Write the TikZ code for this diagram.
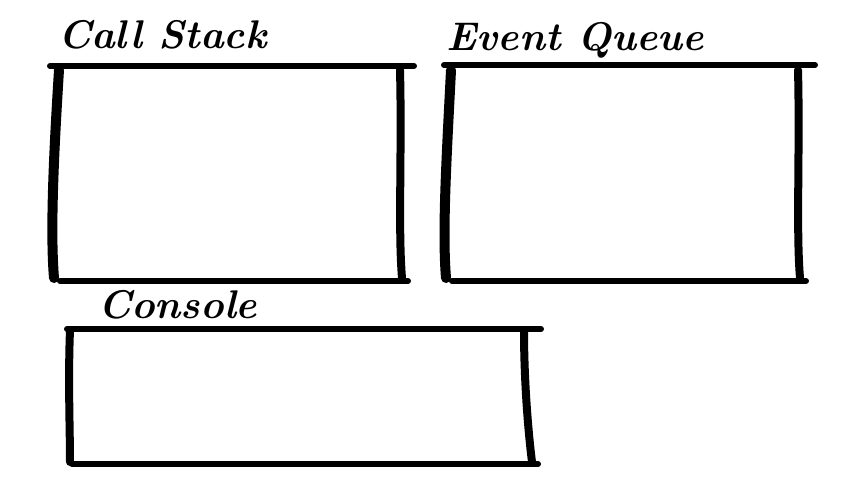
\documentclass[tikz,border=0pt]{standalone}
\begin{document}
\begin{tikzpicture}[x=1pt,y=-1pt]
\tikzset{brush/.style={line width=6pt,line cap=round},
  thick brush/.style={brush,line width=10pt},
  title/.style={anchor=base west,inner sep=0pt,font=\fontsize{40}{40}\selectfont\bfseries\itshape}}
\useasboundingbox (0,0) rectangle (853,480);

% titles
\node[title] (cs) at (58,48) {Call Stack};
\node[title] (eq) at (446,50) {Event Queue};
\node[title] (con) at (98,318) {Console};

% call stack box
\draw[brush] (50,66) -- (414,66);
\draw[thick brush] (59,70) .. controls (54,150) and (50,230) .. (54,278);
\draw[brush,line width=8pt] (400,70) .. controls (402,150) and (398,230) .. (402,278);
\draw[brush] (60,281) -- (408,281);

% event queue box
\draw[brush] (444,65) -- (815,65);
\draw[thick brush] (451,70) .. controls (447,150) and (442,230) .. (446,278);
\draw[brush,line width=8pt] (798,70) .. controls (800,150) and (796,230) .. (800,278);
\draw[brush] (452,281) -- (806,281);

% console box
\draw[brush] (67,329) -- (541,329);
\draw[brush,line width=8pt] (70,330) .. controls (68,380) and (70,430) .. (70,462);
\draw[brush,line width=8pt] (524,330) .. controls (524,380) and (528,430) .. (532,462);
\draw[brush] (72,464) -- (538,464);
\end{tikzpicture}
\end{document}
